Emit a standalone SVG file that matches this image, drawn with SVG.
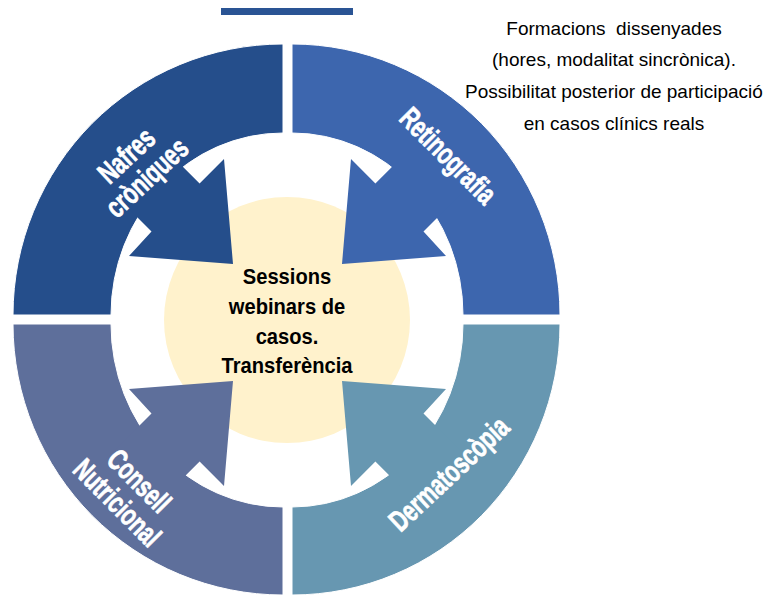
<svg xmlns="http://www.w3.org/2000/svg" width="769" height="597" viewBox="0 0 769 597">
<style>
.lbl{font-family:"Liberation Sans",Arial,sans-serif;font-weight:bold;font-size:30px;fill:#fff;stroke:#fff;stroke-width:0.7;text-anchor:middle}
.ctr{font-family:"Liberation Sans",Arial,sans-serif;font-weight:bold;font-size:22px;fill:#000;text-anchor:middle}
.note{font-family:"Liberation Sans",Arial,sans-serif;font-size:19px;fill:#000;text-anchor:middle}
.q{stroke:#fff;stroke-width:1}
</style>
<rect x="221" y="8" width="132" height="7" fill="#2A5494"/>
<g id="center">
<circle cx="287" cy="320" r="123" fill="#FFF2CC"/>
</g>
<g id="q-nafres">
<path class="q" fill="#254E8B" d="M283,44 A270,271 0 0 0 13,315 L111,315 A172,182 0 0 1 283,133 Z"/>
<polygon fill="#254E8B" points="224,159 199.6,183.5 148,132 100,180 151.5,231.6 129,256 233,264"/>
<g transform="translate(136,166) rotate(-43)">
<text class="lbl" transform="scale(0.7,1)" x="0" y="-4">Nafres</text>
<text class="lbl" transform="scale(0.7,1)" x="0" y="26">cròniques</text>
</g>
</g>
<g id="q-retinografia">
<path class="q" fill="#3D66AE" d="M292,44 A268,271 0 0 1 560,315 L463,315 A171,182 0 0 0 292,133 Z"/>
<polygon fill="#3D66AE" points="351,159 375.4,183.5 427,132 475,180 423.5,231.6 446,256 342,264"/>
<g transform="translate(448,156) rotate(45)">
<text class="lbl" transform="scale(0.7,1)" x="0" y="10">Retinografia</text>
</g>
</g>
<g id="q-consell">
<path class="q" fill="#5E6F9B" d="M13,324 A270,271 0 0 0 283,595 L283,507 A172,183 0 0 1 111,324 Z"/>
<polygon fill="#5E6F9B" points="224,486 199.6,461.5 148,513 100,465 151.5,413.4 129,389 233,381"/>
<g transform="translate(129,491) rotate(45)">
<text class="lbl" transform="scale(0.7,1)" x="0" y="-4">Consell</text>
<text class="lbl" transform="scale(0.7,1)" x="0" y="27">Nutricional</text>
</g>
</g>
<g id="q-dermatoscopia">
<path class="q" fill="#6797B1" d="M560,324 A268,271 0 0 1 292,595 L292,507 A171,183 0 0 0 463,324 Z"/>
<polygon fill="#6797B1" points="351,486 375.4,461.5 427,513 475,465 423.5,413.4 446,389 342,381"/>
<g transform="translate(449,474) rotate(-43)">
<text class="lbl" transform="scale(0.7,1)" x="0" y="10">Dermatoscòpia</text>
</g>
</g>
<g id="center-text" transform="translate(287,0) scale(0.915,1)">
<text class="ctr" x="0" y="284">Sessions</text>
<text class="ctr" x="0" y="314">webinars de</text>
<text class="ctr" x="0" y="344">casos.</text>
<text class="ctr" x="0" y="373.5">Transferència</text>
</g>
<g id="note">
<text class="note" x="614" y="35" xml:space="preserve">Formacions  dissenyades</text>
<text class="note" x="614" y="66">(hores, modalitat sincrònica).</text>
<text class="note" x="614" y="98">Possibilitat posterior de participació</text>
<text class="note" x="614" y="130">en casos clínics reals</text>
</g>
<g id="connectors"></g>
</svg>
